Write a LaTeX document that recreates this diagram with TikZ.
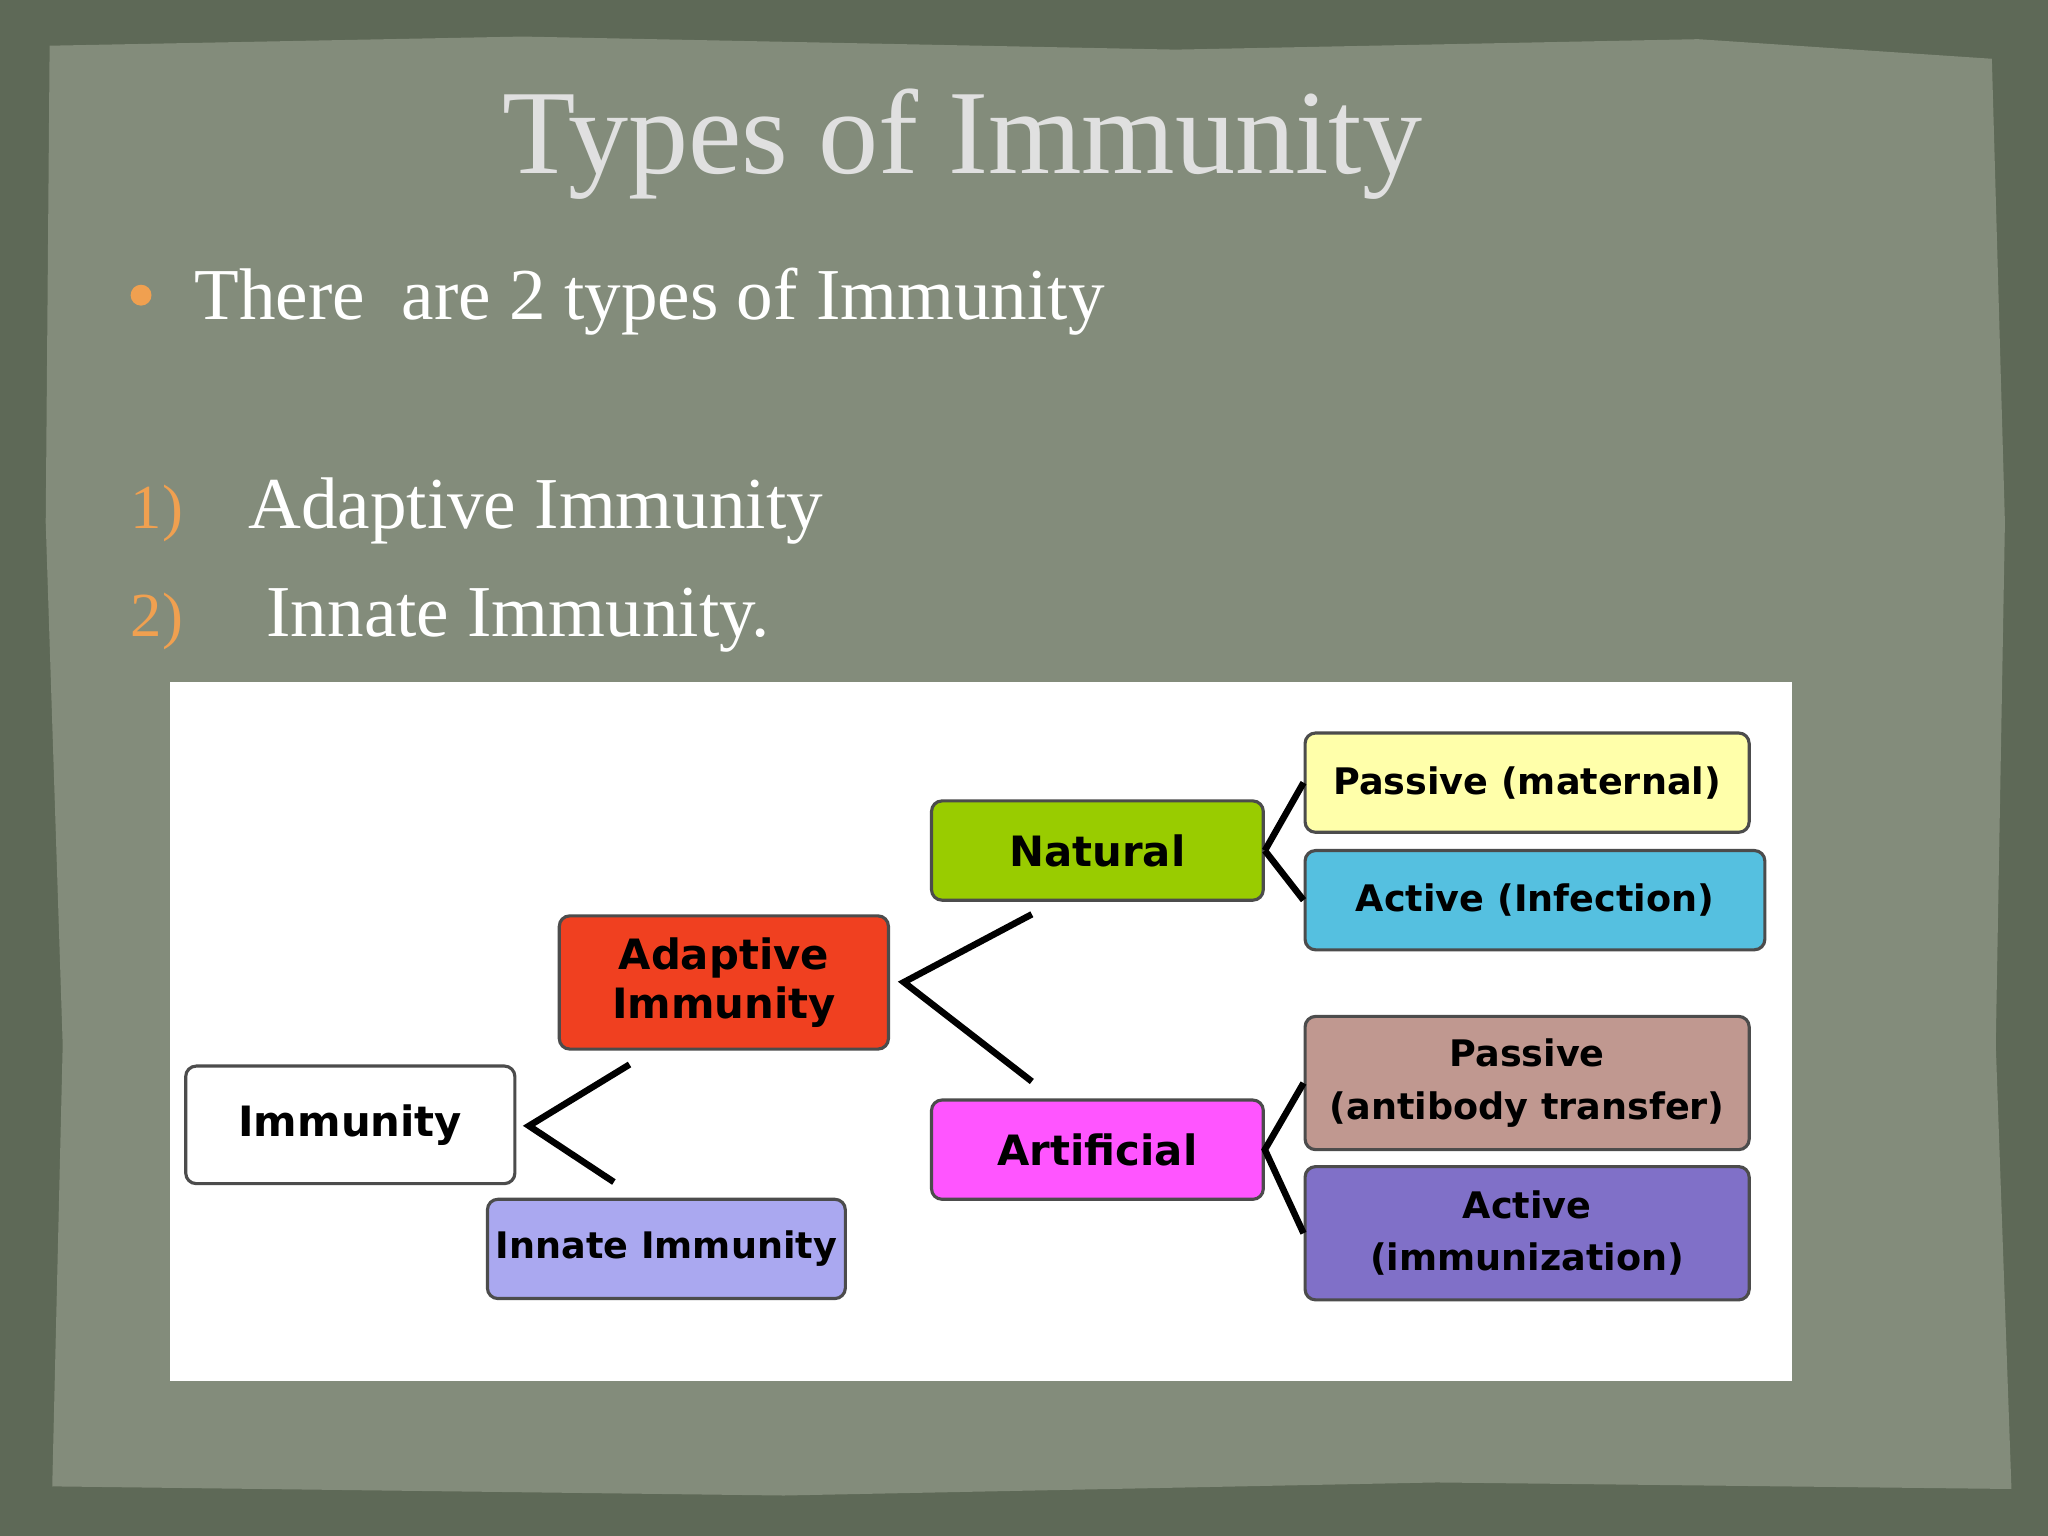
\documentclass[tikz,border=0pt]{standalone}
\usepackage{fontspec}
\setmainfont{Liberation Serif}
\newfontfamily\diagfont{DejaVu Sans}
\definecolor{outerbg}{HTML}{5E6957}
\definecolor{paper}{HTML}{838C7B}
\definecolor{orng}{HTML}{F0A050}
\tikzset{box/.style={draw=black!70,line width=1.2pt,rounded corners=4pt,anchor=north west,inner sep=0pt,align=center,font=\diagfont\bfseries\fontsize{16}{19}\selectfont},
 conn/.style={line width=2.5pt,black}}
\begin{document}
\begin{tikzpicture}[x=0.5pt,y=-0.5pt]
\fill[outerbg] (0,0) rectangle (1568,1176);
\fill[paper] (38,35) -- (400,28) -- (900,38) -- (1300,30) -- (1525,45) -- (1535,400) -- (1528,800) -- (1540,1140) -- (1100,1135) -- (600,1145) -- (40,1138) -- (48,800) -- (35,400) -- cycle;
\node[font=\fontsize{46}{50}\selectfont,text=white!88!black] (title) at (737,110) {Types of Immunity};
\fill[orng] (108,226) circle (8);
\node[anchor=base west,font=\fontsize{28}{32}\selectfont,text=white] (b1) at (142,245) {There\ \ are 2 types of Immunity};
\node[anchor=base west,font=\fontsize{24}{28}\selectfont,text=orng] (n1) at (93,405) {1)};
\node[anchor=base west,font=\fontsize{28}{32}\selectfont,text=white] (t1) at (183,405) {Adaptive Immunity};
\node[anchor=base west,font=\fontsize{24}{28}\selectfont,text=orng] (n2) at (93,487) {2)};
\node[anchor=base west,font=\fontsize{28}{32}\selectfont,text=white] (t2) at (197,487) {Innate Immunity.};
\fill[white] (130,522) rectangle (1372,1057);
\node[box,fill=white,minimum width=126pt,minimum height=45pt] (imm) at (141,815) {Immunity};
\node[box,fill={rgb,255:red,240;green,64;blue,32},minimum width=126pt,minimum height=51pt] (ada) at (427,700) {Adaptive\\Immunity};
\node[box,fill={rgb,255:red,170;green,168;blue,240},minimum width=137pt,minimum height=38pt,font=\diagfont\bfseries\fontsize{14}{17}\selectfont] (inn) at (372,917) {Innate Immunity};
\node[box,fill={rgb,255:red,153;green,204;blue,0},minimum width=127pt,minimum height=38pt] (nat) at (712,612) {Natural};
\node[box,fill={rgb,255:red,255;green,85;blue,255},minimum width=127pt,minimum height=38pt] (art) at (712,841) {Artificial};
\node[box,fill={rgb,255:red,255;green,255;blue,170},minimum width=170pt,minimum height=38pt,font=\diagfont\bfseries\fontsize{14}{17}\selectfont] (pm) at (998,560) {Passive (maternal)};
\node[box,fill={rgb,255:red,85;green,192;blue,224},minimum width=176pt,minimum height=38pt,font=\diagfont\bfseries\fontsize{14}{17}\selectfont] (ai) at (998,650) {Active (Infection)};
\node[box,fill={rgb,255:red,192;green,152;blue,144},minimum width=170pt,minimum height=51pt,font=\diagfont\bfseries\fontsize{14}{20}\selectfont] (pa) at (998,777) {Passive\\(antibody transfer)};
\node[box,fill={rgb,255:red,128;green,112;blue,200},minimum width=170pt,minimum height=51pt,font=\diagfont\bfseries\fontsize{14}{20}\selectfont] (aim) at (998,892) {Active\\(immunization)};
\coordinate (c1a) at (482,815); \coordinate (c1) at (405,862); \coordinate (c1b) at (470,905);
\draw[conn] (c1a) -- (c1) -- (c1b);
\coordinate (c2a) at (790,700); \coordinate (c2) at (692,752); \coordinate (c2b) at (790,828);
\draw[conn] (c2a) -- (c2) -- (c2b);
\draw[conn] (pm.west) ++(0,0) -- (nat.east);
\draw[conn] (nat.east) -- (ai.west);
\draw[conn] (pa.west) -- (art.east) -- (aim.west);
\end{tikzpicture}
\end{document}
